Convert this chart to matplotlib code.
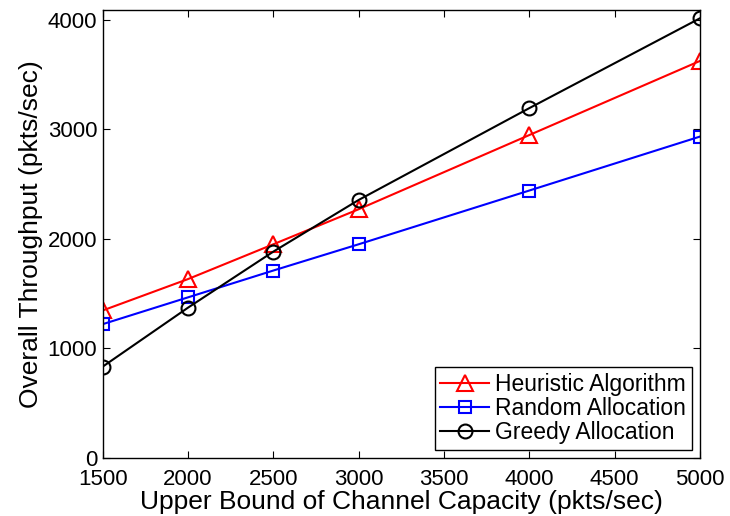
import matplotlib
matplotlib.use('Agg')
import matplotlib.pyplot as plt

plt.rcParams['font.family'] = ['Liberation Sans', 'DejaVu Sans']

# data
capacity = [1500, 2000, 2500, 3000, 4000, 5000]
heuristic = [1345, 1632, 1950, 2270, 2948, 3625]
random_alloc = [1220, 1465, 1710, 1950, 2441, 2934]
greedy = [832, 1371, 1883, 2355, 3194, 4015]

fig = plt.figure(figsize=(7.3, 5.16), dpi=100)
ax = fig.add_axes([0.1407, 0.113, 0.959 - 0.1407, 0.9806 - 0.113])

ax.plot(capacity, heuristic, color='red', marker='^', markersize=11, markerfacecolor='none',
        markeredgewidth=1.5, linewidth=1.5, label='Heuristic Algorithm')
ax.plot(capacity, random_alloc, color='blue', marker='s', markersize=9, markerfacecolor='none',
        markeredgewidth=1.5, linewidth=1.5, label='Random Allocation')
ax.plot(capacity, greedy, color='black', marker='o', markersize=10, markerfacecolor='none',
        markeredgewidth=1.5, linewidth=1.5, label='Greedy Allocation')

ax.set_xlim(1500, 5000)
ax.set_ylim(0, 4090)
ax.set_xticks(range(1500, 5001, 500))
ax.set_yticks(range(0, 4001, 1000))
ax.tick_params(direction='in', top=True, right=True, labelsize=16, length=5, width=0.8)
ax.tick_params(axis='x', pad=8)
ax.tick_params(axis='y', pad=4)
for s in ax.spines.values():
    s.set_linewidth(1.0)

ax.set_xlabel('Upper Bound of Channel Capacity (pkts/sec)', fontsize=19, labelpad=0)
ax.set_ylabel('Overall Throughput (pkts/sec)', fontsize=19, labelpad=3)

leg = ax.legend(loc='lower right', fontsize=16.5, fancybox=False, edgecolor='black',
                framealpha=1, handlelength=2.1, borderpad=0.25, labelspacing=0.05,
                handletextpad=0.3, borderaxespad=0.35)
leg.get_frame().set_linewidth(1.0)

fig.savefig('out.png', dpi=100)
